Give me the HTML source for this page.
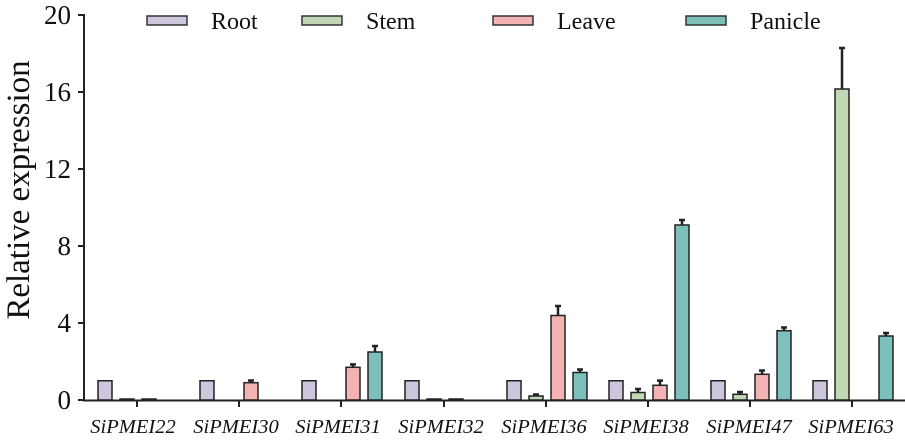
<!DOCTYPE html>
<html><head><meta charset="utf-8"><style>
html,body{margin:0;padding:0;background:#fff;}
svg{display:block;font-family:"Liberation Serif",serif;}
</style></head><body>
<svg width="905" height="441" viewBox="0 0 905 441" xmlns="http://www.w3.org/2000/svg">
<g stroke="#222" stroke-width="2" fill="none">
<line x1="84" y1="14" x2="84" y2="401"/>
<line x1="83" y1="400.5" x2="905" y2="400.5"/>
<line x1="78" y1="15" x2="84" y2="15"/>
<line x1="78" y1="92" x2="84" y2="92"/>
<line x1="78" y1="169" x2="84" y2="169"/>
<line x1="78" y1="246" x2="84" y2="246"/>
<line x1="78" y1="323" x2="84" y2="323"/>
<line x1="78" y1="400" x2="84" y2="400"/>
<line x1="137" y1="400" x2="137" y2="407"/>
<line x1="239" y1="400" x2="239" y2="407"/>
<line x1="341" y1="400" x2="341" y2="407"/>
<line x1="444" y1="400" x2="444" y2="407"/>
<line x1="546" y1="400" x2="546" y2="407"/>
<line x1="648" y1="400" x2="648" y2="407"/>
<line x1="750" y1="400" x2="750" y2="407"/>
<line x1="852" y1="400" x2="852" y2="407"/>
</g>
<g font-size="27" fill="#111" text-anchor="end">
<text x="71" y="24">20</text>
<text x="71" y="101">16</text>
<text x="71" y="178">12</text>
<text x="71" y="255">8</text>
<text x="71" y="332">4</text>
<text x="71" y="409">0</text>
</g>
<text transform="translate(29,190) rotate(-90)" font-size="33" text-anchor="middle" fill="#111">Relative expression</text>
<g font-size="20.5" font-style="italic" text-anchor="middle" fill="#111">
<text x="133" y="433">SiPMEI22</text>
<text x="236" y="433">SiPMEI30</text>
<text x="338" y="433">SiPMEI31</text>
<text x="441" y="433">SiPMEI32</text>
<text x="544" y="433">SiPMEI36</text>
<text x="646" y="433">SiPMEI38</text>
<text x="749" y="433">SiPMEI47</text>
<text x="851" y="433">SiPMEI63</text>
</g>
<!-- legend -->
<g stroke="#333" stroke-width="1.5">
<rect x="147" y="16" width="40" height="9" fill="#cdc6dc"/>
<rect x="302" y="16" width="40" height="9" fill="#c0d9b4"/>
<rect x="493" y="16" width="40" height="9" fill="#f2b3b2"/>
<rect x="686" y="16" width="40" height="9" fill="#7dbfbb"/>
</g>
<g font-size="24" fill="#111">
<text x="211" y="29">Root</text>
<text x="366" y="29">Stem</text>
<text x="557" y="29">Leave</text>
<text x="750" y="29">Panicle</text>
</g>
<!-- error bars -->
<g stroke="#222" stroke-width="2.5">
<line x1="251" y1="382.7" x2="251" y2="380.5"/><line x1="248" y1="380.5" x2="254" y2="380.5"/>
<line x1="353" y1="367.3" x2="353" y2="364.4"/><line x1="350" y1="364.4" x2="356" y2="364.4"/>
<line x1="375" y1="352" x2="375" y2="346"/><line x1="372" y1="346" x2="378" y2="346"/>
<line x1="536" y1="396" x2="536" y2="394.5"/><line x1="533" y1="394.5" x2="539" y2="394.5"/>
<line x1="558" y1="315.5" x2="558" y2="306"/><line x1="555" y1="306" x2="561" y2="306"/>
<line x1="580" y1="372.5" x2="580" y2="369.5"/><line x1="577" y1="369.5" x2="583" y2="369.5"/>
<line x1="638" y1="392.5" x2="638" y2="389"/><line x1="635" y1="389" x2="641" y2="389"/>
<line x1="660" y1="385.3" x2="660" y2="380.6"/><line x1="657" y1="380.6" x2="663" y2="380.6"/>
<line x1="682" y1="225" x2="682" y2="220"/><line x1="679" y1="220" x2="685" y2="220"/>
<line x1="740" y1="394.3" x2="740" y2="392"/><line x1="737" y1="392" x2="743" y2="392"/>
<line x1="762" y1="374.3" x2="762" y2="370.5"/><line x1="759" y1="370.5" x2="765" y2="370.5"/>
<line x1="784" y1="330.7" x2="784" y2="327.5"/><line x1="781" y1="327.5" x2="787" y2="327.5"/>
<line x1="842" y1="89" x2="842" y2="48"/><line x1="839" y1="48" x2="845" y2="48"/>
<line x1="886" y1="336" x2="886" y2="333"/><line x1="883" y1="333" x2="889" y2="333"/>
</g>
<!-- bars -->
<g stroke="#222" stroke-width="1.5">
<g fill="#cdc6dc">
<rect x="98" y="380.75" width="14" height="19.25"/>
<rect x="200" y="380.75" width="14" height="19.25"/>
<rect x="302" y="380.75" width="14" height="19.25"/>
<rect x="405" y="380.75" width="14" height="19.25"/>
<rect x="507" y="380.75" width="14" height="19.25"/>
<rect x="609" y="380.75" width="14" height="19.25"/>
<rect x="711" y="380.75" width="14" height="19.25"/>
<rect x="813" y="380.75" width="14" height="19.25"/>
</g>
<g fill="#c0d9b4">
<rect x="120" y="399" width="14" height="1"/>
<rect x="427" y="399" width="14" height="1"/>
<rect x="529" y="396" width="14" height="4"/>
<rect x="631" y="392.5" width="14" height="7.5"/>
<rect x="733" y="394.3" width="14" height="5.7"/>
<rect x="835" y="89" width="14" height="311"/>
</g>
<g fill="#f2b3b2">
<rect x="142" y="399" width="14" height="1"/>
<rect x="244" y="382.7" width="14" height="17.3"/>
<rect x="346" y="367.3" width="14" height="32.7"/>
<rect x="449" y="399" width="14" height="1"/>
<rect x="551" y="315.5" width="14" height="84.5"/>
<rect x="653" y="385.3" width="14" height="14.7"/>
<rect x="755" y="374.3" width="14" height="25.7"/>
</g>
<g fill="#7dbfbb">
<rect x="368" y="352" width="14" height="48"/>
<rect x="573" y="372.5" width="14" height="27.5"/>
<rect x="675" y="225" width="14" height="175"/>
<rect x="777" y="330.7" width="14" height="69.3"/>
<rect x="879" y="336" width="14" height="64"/>
</g>
</g>
</svg>
</body></html>
